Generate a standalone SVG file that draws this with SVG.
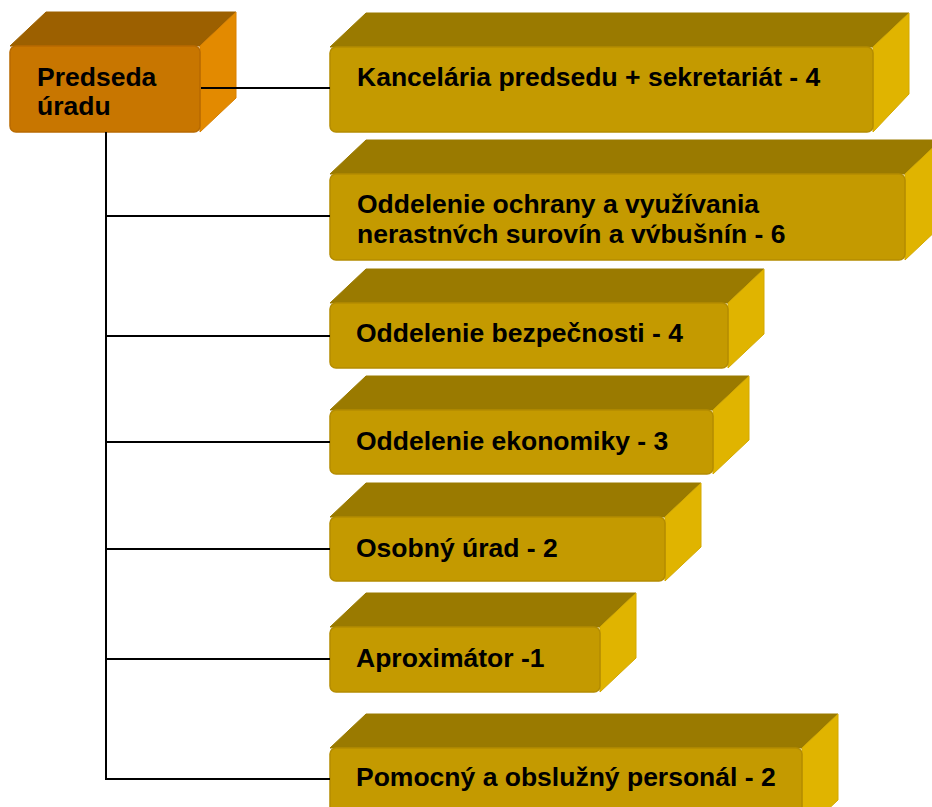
<svg xmlns="http://www.w3.org/2000/svg" width="932" height="807" viewBox="0 0 932 807">
<style>
.txt{font-family:"Liberation Sans",Arial,sans-serif;font-weight:bold;font-size:26.5px;fill:#000}
.gf{fill:#C49A00;stroke:#B48C00;stroke-width:1.5}
.gt{fill:#9A7A00;stroke:#9A7A00;stroke-width:1;stroke-linejoin:round}
.gr{fill:#E0B400;stroke:#D4A900;stroke-width:1;stroke-linejoin:round}
.of{fill:#C87600;stroke:#B86A00;stroke-width:1.5}
.ot{fill:#9C6000;stroke:#9C6000;stroke-width:1;stroke-linejoin:round}
.or{fill:#E38A00;stroke:#D88000;stroke-width:1;stroke-linejoin:round}
.ln{stroke:#000;stroke-width:2;fill:none}
</style>
<g id="predseda">
<polygon class="ot" points="10,46 46,12 236,12 200,46"/>
<polygon class="or" points="200,46 236,12 236,98 200,132"/>
<rect class="of" x="10" y="46" width="190" height="86" rx="6"/>
<text class="txt" x="37" y="86">Predseda</text>
<text class="txt" x="37" y="115">úradu</text>
</g>
<g id="kancelaria">
<polygon class="gt" points="330,47 366,13 909,13 873,47"/>
<polygon class="gr" points="873,47 909,13 909,94 873,132"/>
<rect class="gf" x="330" y="47" width="543" height="85" rx="6"/>
<text class="txt" x="357" y="86">Kancelária predsedu + sekretariát - 4</text>
</g>
<g id="ochrana">
<polygon class="gt" points="330,174 366,140 941,140 905,174"/>
<polygon class="gr" points="905,174 941,140 941,226 905,260"/>
<rect class="gf" x="330" y="174" width="575" height="86" rx="6"/>
<text class="txt" x="357" y="213">Oddelenie ochrany a využívania</text>
<text class="txt" x="357" y="243">nerastnv&#x301;ch surovín a vv&#x301;bušnín - 6</text>
</g>
<g id="bezpecnost">
<polygon class="gt" points="330,303 366,269 764,269 728,303"/>
<polygon class="gr" points="728,303 764,269 764,334 728,368"/>
<rect class="gf" x="330" y="303" width="398" height="65" rx="6"/>
<text class="txt" x="356" y="342">Oddelenie bezpečnosti - 4</text>
</g>
<g id="ekonomika">
<polygon class="gt" points="330,410 366,376 749,376 713,410"/>
<polygon class="gr" points="713,410 749,376 749,440 713,474"/>
<rect class="gf" x="330" y="410" width="383" height="64" rx="6"/>
<text class="txt" x="356" y="450">Oddelenie ekonomiky - 3</text>
</g>
<g id="osobny">
<polygon class="gt" points="330,517 366,483 701,483 665,517"/>
<polygon class="gr" points="665,517 701,483 701,547 665,581"/>
<rect class="gf" x="330" y="517" width="335" height="64" rx="6"/>
<text class="txt" x="356" y="557">Osobný úrad - 2</text>
</g>
<g id="aproximator">
<polygon class="gt" points="330,627 366,593 636,593 600,627"/>
<polygon class="gr" points="600,627 636,593 636,658 600,692"/>
<rect class="gf" x="330" y="627" width="270" height="65" rx="6"/>
<text class="txt" x="356" y="667">Aproximátor -1</text>
</g>
<g id="pomocny">
<polygon class="gt" points="330,748 366,714 838,714 802,748"/>
<polygon class="gr" points="802,748 838,714 838,800 802,834"/>
<rect class="gf" x="330" y="748" width="472" height="86" rx="6"/>
<text class="txt" x="356" y="786">Pomocný a obslužný personál - 2</text>
</g>
<g id="connectors">
<line class="ln" x1="201" y1="88" x2="330" y2="88"/>
<line class="ln" x1="106" y1="132" x2="106" y2="780"/>
<line class="ln" x1="105" y1="216" x2="330" y2="216"/>
<line class="ln" x1="105" y1="336" x2="330" y2="336"/>
<line class="ln" x1="105" y1="442" x2="330" y2="442"/>
<line class="ln" x1="105" y1="549" x2="330" y2="549"/>
<line class="ln" x1="105" y1="659" x2="330" y2="659"/>
<line class="ln" x1="105" y1="779" x2="330" y2="779"/>
</g>
</svg>
